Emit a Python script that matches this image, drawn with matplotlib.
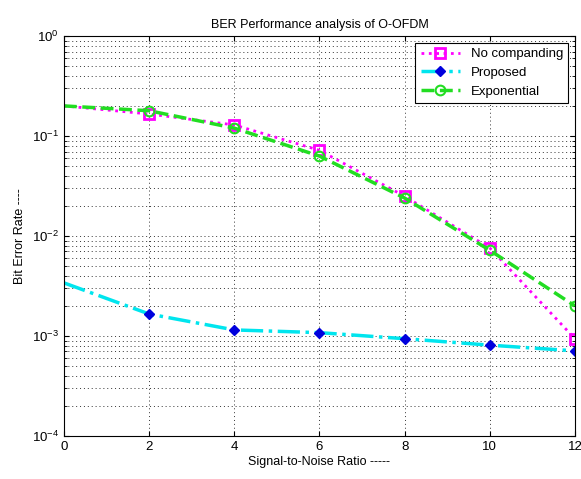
import numpy as np
import matplotlib
matplotlib.use('Agg')
import matplotlib.pyplot as plt
from matplotlib.ticker import LogLocator, NullFormatter

plt.rcParams['font.family'] = ['Liberation Sans', 'DejaVu Sans']
plt.rcParams['mathtext.default'] = 'regular'

# Dades llegides del gràfic
snr = [0, 2, 4, 6, 8, 10, 12]
ber_no_comp = [0.20, 0.166, 0.129, 0.072, 0.025, 0.0076, 0.00094]
ber_proposed = [0.0034, 0.00166, 0.00115, 0.00108, 0.00094, 0.00081, 0.00071]
ber_exponential = [0.20, 0.179, 0.12, 0.063, 0.024, 0.0072, 0.0020]

fig = plt.figure(figsize=(5.81, 4.79), dpi=100)
ax = fig.add_axes([0.110, 0.0898, 0.8795, 0.835])

ax.semilogy(snr, ber_no_comp, ':', color='#ff00ff', lw=2, marker='s', ms=7,
            mfc='none', mec='#ff00ff', mew=2, markevery=range(1, 7), label='No companding')
ax.semilogy(snr, ber_proposed, '-.', color='#00e5ee', lw=2.5, marker='D', ms=5,
            mfc='#0000dd', mec='#0000dd', markevery=range(1, 7), label='Proposed')
ax.semilogy(snr, ber_exponential, '--', color='#22dd22', lw=2.5, marker='o', ms=7,
            mfc='none', mec='#22dd22', mew=1.5, markevery=range(1, 7), label='Exponential')

ax.set_xlim(0, 12)
ax.set_ylim(1e-4, 1)
ax.set_xticks(snr)
ax.yaxis.set_major_locator(LogLocator(base=10, numticks=10))
ax.yaxis.set_minor_locator(LogLocator(base=10, subs=np.arange(2, 10), numticks=10))
ax.yaxis.set_minor_formatter(NullFormatter())

dots = (0, (1, 3))
ax.grid(True, which='major', color='#333333', linestyle=dots, lw=0.7)
ax.grid(True, which='minor', axis='y', color='#333333', linestyle=dots, lw=0.7)
ax.tick_params(which='both', direction='in', top=True, right=True, labelsize=9.5)

ax.set_title('BER Performance analysis of O-OFDM', fontsize=9)
ax.set_xlabel('Signal-to-Noise Ratio -----', fontsize=9, labelpad=2)
ax.set_ylabel('Bit Error Rate ----', fontsize=9)

leg = ax.legend(loc='upper right', fontsize=9.5, fancybox=False, framealpha=1,
                edgecolor='k', handlelength=3, borderaxespad=0.5)
leg.get_frame().set_linewidth(0.8)

fig.savefig('out.png', dpi=100)
